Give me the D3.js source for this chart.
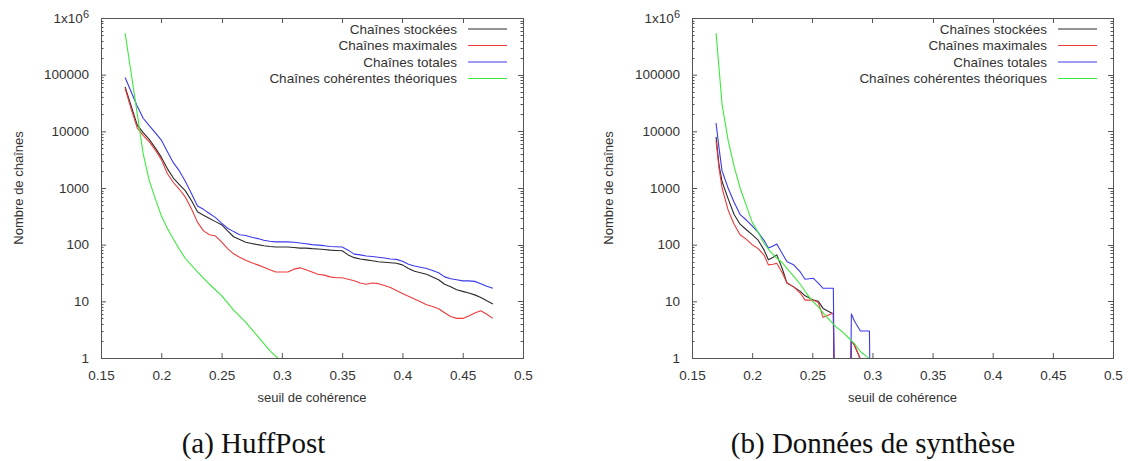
<!DOCTYPE html>
<html>
<head>
<meta charset="utf-8">
<script src="https://cdn.jsdelivr.net/npm/d3@7"></script>
<style>
  html, body { margin: 0; padding: 0; background: #fff; }
  svg { display: block; }
</style>
</head>
<body>
<svg id="chart" width="1128" height="461"></svg>
<script>
// ---------------- DATA ----------------
const seriesNames = ["Chaînes stockées", "Chaînes maximales", "Chaînes totales", "Chaînes cohérentes théoriques"];
const xTicks = [0.15, 0.2, 0.25, 0.3, 0.35, 0.4, 0.45, 0.5];
const xTickLabels = ["0.15", "0.2", "0.25", "0.3", "0.35", "0.4", "0.45", "0.5"];
const yTicks = [1, 10, 100, 1000, 10000, 100000, 1000000];
const yTickLabels = ["1", "10", "100", "1000", "10000", "100000", "1x10^6"];
const xAxisTitle = "seuil de cohérence";
const yAxisTitle = "Nombre de chaînes";
const captions = ["(a) HuffPost", "(b) Données de synthèse"];

// (a) HuffPost
const xLeft = [0.170,0.175,0.180,0.185,0.190,0.195,0.200,0.205,0.210,0.215,
  0.220,0.225,0.230,0.235,0.240,0.245,0.250,0.255,0.260,0.265,
  0.270,0.275,0.280,0.285,0.290,0.295,0.300,0.305,0.310,0.315,
  0.320,0.325,0.330,0.335,0.340,0.345,0.350,0.355,0.360,0.365,
  0.370,0.375,0.380,0.385,0.390,0.395,0.400,0.405,0.410,0.415,
  0.420,0.425,0.430,0.435,0.440,0.445,0.450,0.455,0.460,0.465,
  0.470,0.475];
const leftStored = [61000,28000,13000,9500,7200,5100,3500,2200,1500,1150,
  890,600,380,330,290,255,225,175,138,123,
  110,105,100,96,93,91,91,91,89,87,
  87,85,84,82,80,79,78,66,59,56,
  54,52,50,49,48,47,44,38,34,32,
  30,27,24,20,18,16,15,14,13,11.7,
  10.2,9];
const leftMaximal = [57000,25000,11500,8500,6500,4700,3200,1800,1250,950,
  690,430,250,175,150,142,112,85,69,60,
  53,48,44,40,36,33,33,33,37,39,
  36,33,30,29,27,26,26,24.5,23,21,
  20,21,20.5,19,17.5,15.5,13.8,12.3,11,9.8,
  8.7,8.1,7.4,6.3,5.4,5,5,5.5,6.2,6.8,
  5.9,5];
const leftTotal = [89000,50000,28000,17000,12600,9500,7000,4400,2800,2000,
  1300,800,480,420,355,300,240,195,170,150,
  145,135,128,120,115,112,112,112,110,107,
  104,100,98,96,93,92,91,80,68,66,
  63,62,60,58,56,55,51,45,42,40,
  38,35,32,27,25,24,23,23,22.5,20.5,
  18.5,17];
const xLeftTheo = [0.17,0.175,0.18,0.185,0.19,0.195,0.2,0.205,0.21,0.215,0.22,0.23,0.24,0.25,0.26,0.27,0.28,0.29,0.30];
const leftTheo = [540000,107000,21000,4000,1365,650,325,195,126,83,57,33,20,12.6,7,4.3,2.4,1.35,0.85];

// (b) Données de synthèse
const xRight = [0.170,0.1725,0.175,0.180,0.185,0.190,0.195,0.200,0.205,0.210,
  0.2135,0.2175,0.2205,0.225,0.229,0.2345,0.240,0.244,0.251,0.255,
  0.259,0.2625,0.2675,0.270,0.280,0.2825,0.285,0.290,0.2975,0.300];
const rightStored = [8000,2500,1300,650,340,230,185,150,120,80,
  54,60,66,38,21,18,15,12.5,10.5,10,
  7.5,6.8,6,0,0,2,1.7,0.95,0,0];
const rightMaximal = [6800,2200,1000,410,230,150,125,100,85,65,
  44,45,47,32,21,18,14,10.5,10.5,9.5,
  5.2,5.6,6.2,0,0,2,1.7,0.95,0,0];
const rightTotal = [14000,5000,2000,1000,560,340,275,215,165,118,
  87,95,103,70,50,44,33,24.5,25.5,21,
  17,17,17,0,0,6,4.5,3,3,0];
const xRightTheo = [0.17,0.175,0.18,0.185,0.19,0.195,0.2,0.205,0.21,0.215,0.22,0.225,0.23,0.235,0.24,0.245,0.25,0.255,0.26,0.265,0.27,0.275,0.28,0.285,0.29,0.295,0.30];
const rightTheo = [540000,30000,7000,2400,1000,500,250,165,105,76,59,48,36,27,20,14,10.2,8,5.9,4.5,3.5,2.9,2.3,1.8,1.3,1.07,0.9];

const seriesColors = ["#2a2a2a", "#ec3b3b", "#3b3bec", "#3fe83f"];

// ---------------- DRAW ----------------
const svg = d3.select("#chart");
svg.append("rect").attr("width", 1128).attr("height", 461).attr("fill", "#fff");

const FONT = "'Liberation Sans', Arial, Helvetica, sans-serif";
const TXT = "#333";
const FRAME = "#555";

function zip(xs, ys) { return xs.map((x, i) => [x, ys[i]]); }

function drawPanel(id, box, series, legendRight, ylabelX, caption) {
  const g = svg.append("g");
  const x = d3.scaleLinear().domain([0.15, 0.5]).range([box.x0, box.x1]);
  const y = d3.scaleLog().domain([1, 1e6]).range([box.y1, box.y0]);

  const clipId = "clip-" + id;
  svg.append("defs").append("clipPath").attr("id", clipId)
    .append("rect").attr("x", box.x0).attr("y", box.y0)
    .attr("width", box.x1 - box.x0).attr("height", box.y1 - box.y0);

  // minor log ticks
  const minor = [];
  for (let dec = 1; dec < 1e6; dec *= 10) for (let k = 2; k <= 9; k++) minor.push(dec * k);
  const tg = g.append("g").attr("stroke", FRAME).attr("stroke-width", 1);
  minor.forEach(v => {
    const yy = Math.round(y(v)) + 0.5;
    tg.append("line").attr("x1", box.x0).attr("x2", box.x0 + 2.5).attr("y1", yy).attr("y2", yy);
    tg.append("line").attr("x1", box.x1).attr("x2", box.x1 - 2.5).attr("y1", yy).attr("y2", yy);
  });
  // mirrored major ticks (right / top)
  yTicks.forEach(v => {
    const yy = Math.round(y(v)) + 0.5;
    tg.append("line").attr("x1", box.x1).attr("x2", box.x1 - 5).attr("y1", yy).attr("y2", yy);
  });
  xTicks.forEach(v => {
    const xx = Math.round(x(v)) + 0.5;
    tg.append("line").attr("x1", xx).attr("x2", xx).attr("y1", box.y0).attr("y2", box.y0 + 5);
  });

  // bottom axis
  const xa = g.append("g").attr("transform", `translate(0,${box.y1})`)
    .call(d3.axisBottom(x).tickValues(xTicks).tickFormat((d, i) => xTickLabels[i])
      .tickSizeInner(-5).tickSizeOuter(0).tickPadding(12));
  xa.select(".domain").remove();
  xa.selectAll("line").attr("stroke", FRAME);
  xa.selectAll("text").attr("font-family", FONT).attr("font-size", 13.5).attr("fill", TXT);

  // left axis
  const ya = g.append("g").attr("transform", `translate(${box.x0},0)`)
    .call(d3.axisLeft(y).tickValues(yTicks).tickFormat((d, i) => yTickLabels[i])
      .tickSizeInner(-5).tickSizeOuter(0).tickPadding(12));
  ya.select(".domain").remove();
  ya.selectAll("line").attr("stroke", FRAME);
  ya.selectAll("text").attr("font-family", FONT).attr("font-size", 13.5).attr("fill", TXT)
    .each(function (d, i) {
      const lbl = yTickLabels[i];
      if (lbl.indexOf("^") >= 0) {
        const [base, exp] = lbl.split("^");
        const t = d3.select(this).text(null);
        t.append("tspan").text(base);
        t.append("tspan").attr("dy", "-0.45em").attr("font-size", 11).text(exp);
      }
    });

  // frame
  g.append("rect").attr("x", box.x0 + 0.5).attr("y", box.y0 + 0.5)
    .attr("width", box.x1 - box.x0).attr("height", box.y1 - box.y0)
    .attr("fill", "none").attr("stroke", FRAME).attr("stroke-width", 1);

  // lines
  const line = d3.line().x(d => x(d[0])).y(d => y(Math.max(d[1], 1e-4)));
  const lg = g.append("g").attr("clip-path", `url(#${clipId})`);
  series.forEach((s, i) => {
    lg.append("path").datum(s).attr("d", line)
      .attr("fill", "none").attr("stroke", seriesColors[i]).attr("stroke-width", 1.1)
      .attr("stroke-linejoin", "round");
  });

  // legend
  const legY = [29, 45.5, 62, 78.5];
  seriesNames.forEach((name, i) => {
    g.append("text").attr("x", legendRight).attr("y", legY[i]).attr("dy", "0.35em")
      .attr("text-anchor", "end").attr("font-family", FONT).attr("font-size", 13.5)
      .attr("fill", TXT).text(name);
    g.append("line").attr("x1", legendRight + 11).attr("x2", legendRight + 50)
      .attr("y1", legY[i]).attr("y2", legY[i])
      .attr("stroke", seriesColors[i]).attr("stroke-width", 1.1);
  });

  // axis titles
  g.append("text").attr("x", (box.x0 + box.x1) / 2).attr("y", 402)
    .attr("text-anchor", "middle").attr("font-family", FONT).attr("font-size", 13)
    .attr("fill", TXT).text(xAxisTitle);
  g.append("text").attr("transform", `translate(${ylabelX},${(box.y0 + box.y1) / 2}) rotate(-90)`)
    .attr("text-anchor", "middle").attr("font-family", FONT).attr("font-size", 13)
    .attr("fill", TXT).text(yAxisTitle);

  // caption
  g.append("text").attr("x", caption.x).attr("y", 453).attr("text-anchor", "middle")
    .attr("font-family", "'Liberation Serif', 'DejaVu Serif', serif").attr("font-size", 29)
    .attr("fill", "#111").text(caption.text);
}

drawPanel("a", { x0: 101, x1: 523, y0: 18, y1: 358 },
  [zip(xLeft, leftStored), zip(xLeft, leftMaximal), zip(xLeft, leftTotal), zip(xLeftTheo, leftTheo)],
  457, 23, { x: 253.5, text: captions[0] });

drawPanel("b", { x0: 692, x1: 1113, y0: 18, y1: 358 },
  [zip(xRight, rightStored), zip(xRight, rightMaximal), zip(xRight, rightTotal), zip(xRightTheo, rightTheo)],
  1047, 613, { x: 873, text: captions[1] });
</script>
</body>
</html>
